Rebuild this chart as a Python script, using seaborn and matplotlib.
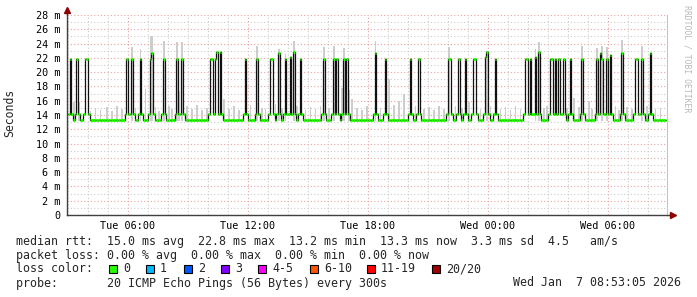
import numpy as np
import pandas as pd
import matplotlib
matplotlib.use("Agg")
import matplotlib.pyplot as plt
import matplotlib.dates as mdates
import matplotlib.ticker as mticker
from matplotlib.patches import Rectangle
import seaborn as sns

# ---------------- data ----------------
start_time = "2026-01-06 03:00"
n_steps = 359
base_rtt = 13.3          # ms
shoulder_rtt = 14.2      # ms
smoke_floor = 13.2       # ms

spike_steps = [1, 5, 10, 11, 35, 38, 43, 49, 50, 57,
               65, 68, 85, 86, 88, 89, 91, 106, 113, 121,
               122, 126, 130, 133, 135, 139, 153, 159, 161, 165,
               167, 184, 190, 205, 210, 228, 229, 234, 238, 243,
               244, 250, 251, 256, 274, 275, 277, 280, 282, 289,
               290, 292, 294, 297, 301, 308, 317, 319, 320, 323,
               325, 332, 340, 341, 344, 349]
spike_rtt = [21.8, 21.8, 21.8, 21.8, 21.8, 21.8, 21.8, 21.9, 22.7, 21.8,
             21.8, 21.8, 21.8, 21.8, 21.9, 22.8, 22.8, 21.8, 21.8, 21.8,
             21.8, 22.7, 21.8, 22.1, 22.8, 21.8, 21.8, 21.8, 21.8, 21.8,
             21.8, 22.7, 21.8, 21.8, 21.8, 21.8, 21.8, 21.8, 21.8, 21.8,
             21.8, 22.1, 22.8, 21.8, 21.8, 21.8, 21.8, 22.1, 22.8, 21.8,
             21.8, 21.8, 21.8, 21.8, 21.8, 21.8, 21.8, 22.7, 21.8, 21.8,
             22.4, 22.7, 21.8, 21.8, 21.8, 22.7]

base_smoke_steps = [3, 6, 13, 16, 19, 23, 26, 29, 32, 40,
                    46, 52, 54, 60, 62, 66, 71, 74, 77, 80,
                    83, 93, 96, 99, 102, 109, 116, 118, 124, 128,
                    137, 142, 145, 148, 151, 156, 164, 168, 170, 173,
                    176, 179, 187, 192, 195, 198, 201, 208, 213, 216,
                    219, 222, 225, 232, 236, 240, 247, 253, 259, 262,
                    265, 268, 271, 285, 287, 299, 303, 306, 312, 314,
                    328, 330, 335, 338, 347, 352, 355]
base_smoke_tops = [15.8, 15.8, 14.6, 15.0, 14.7, 15.1, 14.6, 15.2, 14.9, 15.0,
                   17.6, 15.1, 14.6, 15.2, 14.8, 17.3, 15.3, 14.9, 15.4, 14.7,
                   15.0, 16.2, 14.9, 15.2, 14.7, 15.4, 15.0, 14.8, 15.5, 15.0,
                   15.2, 14.7, 15.1, 14.9, 15.3, 15.0, 17.8, 17.5, 16.2, 15.0,
                   14.7, 15.2, 15.0, 19.1, 15.4, 16.0, 17.0, 15.2, 14.8, 15.1,
                   14.7, 15.3, 14.9, 15.2, 15.0, 15.8, 14.9, 15.2, 14.8, 15.1,
                   14.7, 15.3, 14.9, 15.0, 15.2, 15.0, 16.4, 15.1, 16.0, 14.8,
                   15.2, 14.7, 15.1, 14.9, 15.2, 14.8, 15.0]

spike_smoke_steps = [38, 43, 49, 50, 57, 65, 68, 113, 126, 130,
                     135, 153, 159, 165, 184, 228, 251, 280, 282, 308,
                     317, 320, 323, 332, 344]
spike_smoke_tops = [23.5, 23.2, 25.0, 25.1, 24.3, 24.2, 24.2, 23.6, 23.2, 22.6,
                    24.3, 23.5, 23.6, 23.4, 24.3, 23.5, 23.0, 23.3, 24.2, 23.6,
                    23.4, 23.6, 23.5, 24.5, 23.6]

y_ticks = [0, 2, 4, 6, 8, 10, 12, 14, 16, 18, 20, 22, 24, 26, 28]

legend_line1 = "median rtt:  15.0 ms avg  22.8 ms max  13.2 ms min  13.3 ms now  3.3 ms sd  4.5   am/s"
legend_line2 = "packet loss: 0.00 % avg  0.00 % max  0.00 % min  0.00 % now"
loss_labels = ["0", "1", "2", "3", "4-5", "6-10", "11-19", "20/20"]
loss_colors = ["#26ff00", "#00b8ff", "#0059ff", "#7e00ff", "#ff00ff", "#ff5500", "#ff0000", "#a10000"]
probe_text = "probe:       20 ICMP Echo Pings (56 Bytes) every 300s"
stamp_text = "Wed Jan  7 08:53:05 2026"

# ---------------- build series ----------------
times = pd.date_range(start_time, periods=n_steps, freq="5min")
step = pd.Timedelta(minutes=5)
median = np.full(n_steps, base_rtt)
spike_set = set(spike_steps)
for s in spike_steps:
    for nb in (s - 1, s + 1):
        if 0 <= nb < n_steps and nb not in spike_set:
            median[nb] = shoulder_rtt
for s, v in zip(spike_steps, spike_rtt):
    median[s] = v

smoke_steps = base_smoke_steps + spike_smoke_steps
smoke_tops = base_smoke_tops + spike_smoke_tops

# ---------------- figure ----------------
sns.set_style("white")
plt.rcParams["font.family"] = ["DejaVu Sans Mono", "DejaVu Sans"]

W, H = 697, 297
fig = plt.figure(figsize=(W / 100, H / 100), dpi=100)
fig.patch.set_facecolor("white")
px_l, px_r, px_t, px_b = 67, 667, 15, 215
ax = fig.add_axes([px_l / W, (H - px_b) / H, (px_r - px_l) / W, (px_b - px_t) / H])
ax.set_facecolor("white")

xmin = pd.Timestamp("2026-01-06 02:57")
xmax = pd.Timestamp("2026-01-07 08:57")

# smoke
sm_t = mdates.date2num(times[smoke_steps].to_pydatetime())
sm_top = np.array(smoke_tops)
ax.bar(sm_t, sm_top - smoke_floor, bottom=smoke_floor, width=5 / 1440, align="edge",
       color="#cdcdcd", linewidth=0, zorder=2)

# median black step line
t_ext = list(times) + [times[-1] + step]
m_ext = list(median) + [median[-1]]
df = pd.DataFrame({"time": t_ext, "rtt": m_ext})
sns.lineplot(data=df, x="time", y="rtt", drawstyle="steps-post", color="#111111",
             linewidth=0.9, estimator=None, ax=ax, zorder=3)

# green loss-coloured median segments
t0 = mdates.date2num(times.to_pydatetime())
ax.hlines(median, t0, t0 + 5 / 1440, colors=loss_colors[0], linewidth=2.2, zorder=4)

ax.set_xlim(xmin, xmax)
ax.set_ylim(0, 28)
ax.set_xlabel("")
ax.set_ylabel("")

ax.xaxis.set_major_locator(mdates.HourLocator(byhour=[0, 6, 12, 18]))
ax.xaxis.set_minor_locator(mdates.HourLocator())
ax.xaxis.set_major_formatter(mdates.DateFormatter("%a %H:%M"))
ax.yaxis.set_major_locator(mticker.FixedLocator(y_ticks))
ax.yaxis.set_minor_locator(mticker.MultipleLocator(1))
ax.yaxis.set_major_formatter(mticker.FuncFormatter(lambda v, p: "0" if v == 0 else f"{int(v)} m"))

ax.grid(which="major", color="#f0a0a0", linestyle=(0, (1, 2)), linewidth=0.8, zorder=0)
ax.grid(which="minor", color="#cccccc", linestyle=(0, (1, 2)), linewidth=0.8, zorder=0)
ax.set_axisbelow(True)

ax.tick_params(axis="both", which="both", length=0, labelsize=7.3, colors="#000000")
ax.tick_params(axis="x", pad=4)
ax.tick_params(axis="y", pad=5)

ax.spines["top"].set_visible(False)
ax.spines["right"].set_color("#c8c8b8")
ax.spines["right"].set_linewidth(0.8)
for side in ("left", "bottom"):
    ax.spines[side].set_color("#404040")
    ax.spines[side].set_linewidth(1.0)

# axis extensions and arrows
ax.plot([0, 0], [1, 1 + 4 / 200], transform=ax.transAxes, color="#404040", lw=1.0, clip_on=False)
ax.plot([0], [1 + 5 / 200], marker="^", markersize=4.5, color="#8c0000", transform=ax.transAxes, clip_on=False)
ax.plot([1, 1 + 4 / 600], [0, 0], transform=ax.transAxes, color="#404040", lw=1.0, clip_on=False)
ax.plot([1 + 6 / 600], [0], marker=">", markersize=4.5, color="#8c0000", transform=ax.transAxes, clip_on=False)

# y label
fig.text(10 / W, 1 - 113 / H, "Seconds", rotation=90, ha="center", va="center", fontsize=8.3)

# watermark
fig.text(687 / W, 1 - 5 / H, "RRDTOOL / TOBI OETIKER", rotation=-90, ha="center", va="top",
         fontsize=5.9, color="#b8b8b8")

# legend lines
fs = 8.4
def fy(y):
    return 1 - y / H

fig.text(16 / W, fy(241), legend_line1, ha="left", va="center", fontsize=fs)
fig.text(16 / W, fy(255), legend_line2, ha="left", va="center", fontsize=fs)
fig.text(16 / W, fy(269), "loss color:", ha="left", va="center", fontsize=fs)
box_x = [109, 146, 184, 221, 258, 310, 367, 432]
for bx, lab, col in zip(box_x, loss_labels, loss_colors):
    fig.patches.append(Rectangle((bx / W, fy(273)), 8 / W, 8 / H, transform=fig.transFigure,
                                 facecolor=col, edgecolor="black", linewidth=0.8))
    fig.text((bx + 14) / W, fy(269), lab, ha="left", va="center", fontsize=fs)
fig.text(16 / W, fy(283), probe_text, ha="left", va="center", fontsize=fs)
fig.text(681 / W, fy(283), stamp_text, ha="right", va="center", fontsize=fs)

fig.savefig("out.png", dpi=100, facecolor="white")
